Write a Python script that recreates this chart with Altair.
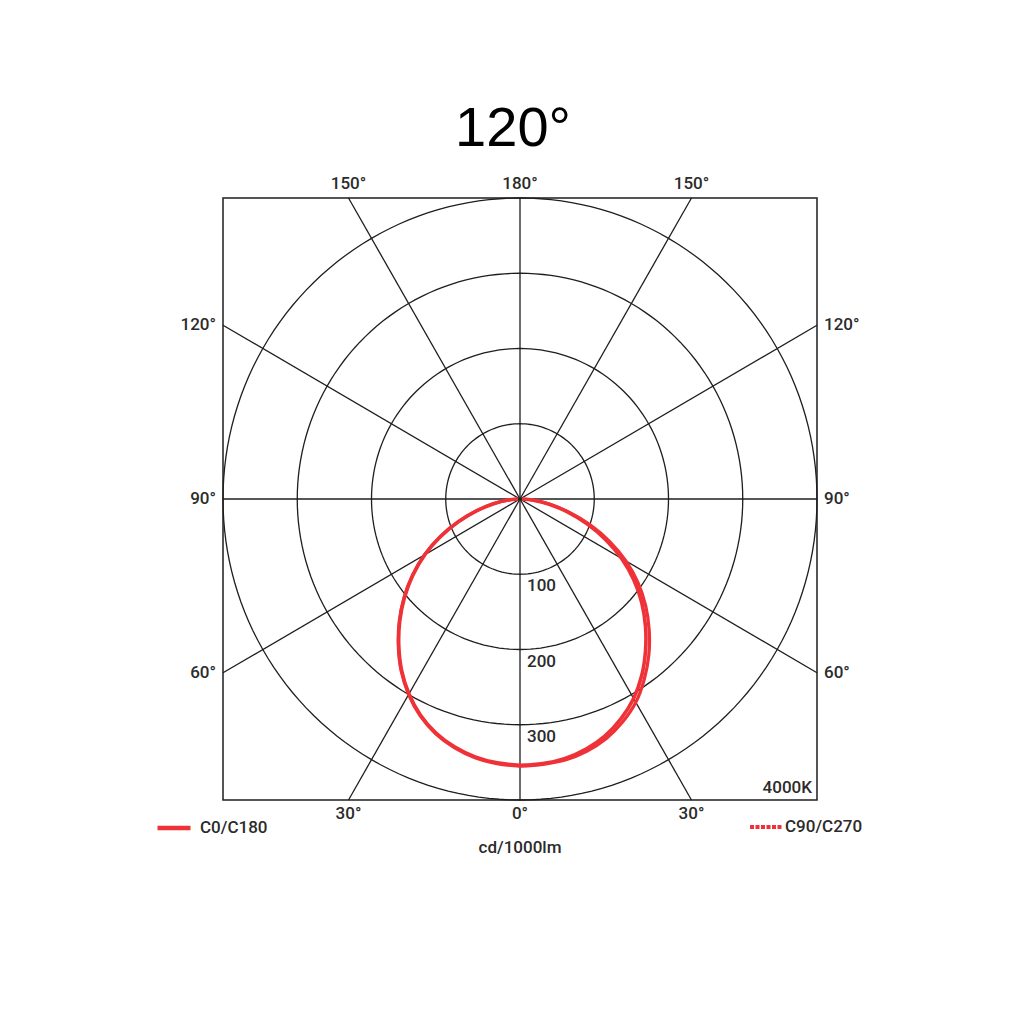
import altair as alt
import pandas as pd

# ---- data (cd/1000lm) ----
gamma = list(range(0, 91, 5))
c0 = [354, 353, 350, 344, 335, 322, 306, 286, 263, 239, 214, 187, 158, 127, 96, 66, 40, 18, 3]
c180 = [354, 352, 348, 341, 331, 317, 299, 278, 254, 229, 203, 176, 148, 118, 88, 60, 36, 16, 3]
c90 = [355, 354, 352, 347, 339, 327, 312, 292, 270, 246, 221, 194, 165, 133, 101, 69, 42, 19, 3]
c270 = [355, 353, 349, 342, 332, 318, 300, 279, 255, 230, 204, 177, 149, 119, 89, 61, 37, 17, 3]

ring_values = [100, 200, 300, 400]
ring_label_values = [100, 200, 300]
spoke_angles = list(range(0, 360, 30))
RMAX = 400

RED = "#EE3237"
INK = "#1e1e1e"
FONT = "Roboto"


def curve_frame(name, left, right):
    rows = []
    k = 0
    for g, v in zip(reversed(gamma), reversed(left)):
        rows.append({"series": name, "phi": -g, "I": v, "o": k})
        k += 1
    for g, v in zip(gamma, right):
        rows.append({"series": name, "phi": g, "I": v, "o": k})
        k += 1
    return pd.DataFrame(rows)


df_a = curve_frame("C0/C180", c180, c0)
df_b = curve_frame("C90/C270", c270, c90)

ring_rows = [{"ring": r, "t": t} for r in ring_values for t in range(0, 361, 2)]
ring_df = pd.DataFrame(ring_rows)
spoke_df = pd.DataFrame({"phi": spoke_angles})
ring_lab_df = pd.DataFrame({"v": ring_label_values})
note_df = pd.DataFrame({"cct": ["4000K"], "unit": ["cd/1000lm"]})

xs = alt.Scale(domain=[-RMAX, RMAX], nice=False, zero=False)
ys = alt.Scale(domain=[-RMAX, RMAX], nice=False, zero=False)
X = lambda f: alt.X(f, type="quantitative", scale=xs, axis=None)
Y = lambda f: alt.Y(f, type="quantitative", scale=ys, axis=None)

rings = alt.Chart(ring_df).transform_calculate(
    x="datum.ring * cos(datum.t * PI / 180)",
    y="datum.ring * sin(datum.t * PI / 180)",
).mark_line(color=INK, strokeWidth=1.3).encode(
    x=X("x"), y=Y("y"), detail="ring:N", order="t:Q"
)

spoke_base = alt.Chart(spoke_df).transform_calculate(
    s="sin(datum.phi * PI / 180)",
    c="cos(datum.phi * PI / 180)",
).transform_calculate(
    tt="min(abs(datum.s) > 1e-6 ? 400 / abs(datum.s) : 1e6, abs(datum.c) > 1e-6 ? 400 / abs(datum.c) : 1e6)",
    zero="0",
).transform_calculate(
    ex="datum.tt * datum.s",
    ey="-datum.tt * datum.c",
    lab="(datum.phi <= 180 ? datum.phi : 360 - datum.phi) + '°'",
)

spokes = spoke_base.mark_rule(color=INK, strokeWidth=1.3).encode(
    x=X("zero"), y=Y("zero"), x2="ex:Q", y2="ey:Q"
)

txt = dict(font=FONT, fontSize=17, fontWeight=500, color="#2b2b2b")
lab_top = spoke_base.transform_filter("datum.ey > 399").mark_text(
    baseline="middle", dy=-14, **txt
).encode(x=X("ex"), y=Y("ey"), text="lab:N")
lab_bot = spoke_base.transform_filter("datum.ey < -399").mark_text(
    baseline="middle", dy=14, **txt
).encode(x=X("ex"), y=Y("ey"), text="lab:N")
lab_left = spoke_base.transform_filter("datum.ex < -399 && abs(datum.ey) < 399").mark_text(
    align="right", baseline="middle", dx=-7, **txt
).encode(x=X("ex"), y=Y("ey"), text="lab:N")
lab_right = spoke_base.transform_filter("datum.ex > 399 && abs(datum.ey) < 399").mark_text(
    align="left", baseline="middle", dx=7, **txt
).encode(x=X("ex"), y=Y("ey"), text="lab:N")

ring_labels = alt.Chart(ring_lab_df).transform_calculate(
    yy="-datum.v", zero="0", lab="toString(datum.v)"
).mark_text(align="left", baseline="middle", dx=7, dy=12, **txt).encode(
    x=X("zero"), y=Y("yy"), text="lab:N"
)

cct = alt.Chart(note_df).mark_text(align="right", baseline="middle", dx=-5, dy=-12, **txt).encode(
    x=alt.datum(RMAX), y=alt.datum(-RMAX), text="cct:N"
)
unit = alt.Chart(note_df).mark_text(align="center", baseline="middle", dy=48, **txt).encode(
    x=alt.datum(0), y=alt.datum(-RMAX), text="unit:N"
)

calc_xy = dict(
    x="datum.I * sin(datum.phi * PI / 180)",
    y="-datum.I * cos(datum.phi * PI / 180)",
)

curve_a = alt.Chart(df_a).transform_calculate(**calc_xy).mark_line(
    strokeWidth=3.6, strokeJoin="round", interpolate="catmull-rom"
).encode(
    x=X("x"), y=Y("y"), order="o:Q",
    color=alt.Color(
        "series:N",
        scale=alt.Scale(domain=["C0/C180"], range=[RED]),
        legend=alt.Legend(
            orient="none", legendX=-68, legendY=611, title=None,
            symbolType="stroke", symbolSize=1089, symbolStrokeWidth=4.5,
            labelFont=FONT, labelFontSize=17, labelFontWeight=500, labelColor="#2b2b2b",
            labelOffset=7, padding=0,
        ),
    ),
)

curve_b = alt.Chart(df_b).transform_calculate(**calc_xy).mark_line(
    strokeWidth=3.2, strokeJoin="round", interpolate="catmull-rom"
).encode(
    x=X("x"), y=Y("y"), order="o:Q",
    color=alt.Color(
        "series:N",
        scale=alt.Scale(domain=["C90/C270"], range=[RED]),
        legend=alt.Legend(
            orient="none", legendX=525, legendY=611, title=None,
            symbolType="stroke", symbolSize=1024, symbolStrokeWidth=4, symbolDash=[4, 1.5],
            labelFont=FONT, labelFontSize=17, labelFontWeight=500, labelColor="#2b2b2b",
            labelOffset=1, padding=0,
        ),
    ),
)

chart = alt.layer(
    rings, spokes, curve_a, curve_b, lab_top, lab_bot, lab_left, lab_right,
    ring_labels, cct, unit,
).resolve_scale(color="independent").properties(
    width=594,
    height=602,
    autosize=alt.AutoSizeParams(type="none"),
    padding={"left": 215, "top": 190, "right": 180, "bottom": 150},
    title=alt.Title("120°", font="Liberation Sans", fontSize=56, fontWeight="normal",
                    color="black", offset=17, dx=-7),
).configure_view(stroke=INK, strokeWidth=1.5)

chart.save("out.html", embed_options={"renderer": "svg", "actions": False})
